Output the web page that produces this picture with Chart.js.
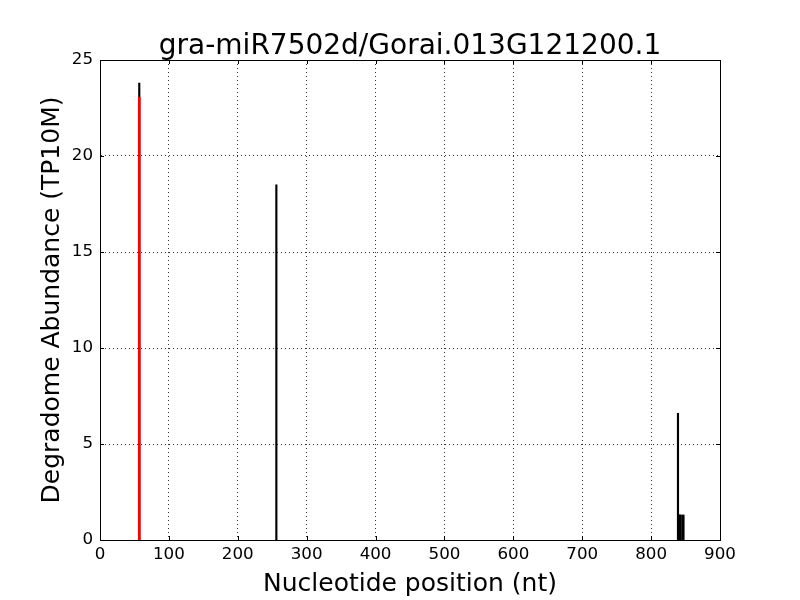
<!DOCTYPE html>
<html>
<head>
<meta charset="utf-8">
<script src="https://cdn.jsdelivr.net/npm/chart.js@4"></script>
<style>
  html, body { margin: 0; padding: 0; background: #fff; }
  canvas { display: block; }
</style>
</head>
<body>
<canvas id="chart" width="800" height="600"></canvas>
<script>
const chartTitle = "gra-miR7502d/Gorai.013G121200.1";
const xLabel = "Nucleotide position (nt)";
const yLabel = "Degradome Abundance (TP10M)";

// degradome reads (black)
const readPositions = [57, 256, 839, 840, 841, 842, 843, 846, 847];
const readValues = [23.8, 18.5, 6.6, 1.3, 1.3, 1.3, 1.3, 1.3, 1.3];

// predicted cleavage site (red)
const sitePositions = [57];
const siteValues = [23.07];

const xTicks = [0, 100, 200, 300, 400, 500, 600, 700, 800, 900];
const yTicks = [0, 5, 10, 15, 20, 25];

const toPoints = (xs, ys) => xs.map((x, i) => ({ x: x, y: ys[i] }));

const fontFamily = "'DejaVu Sans', sans-serif";

// box round plot, inward ticks, title
const framePlugin = {
  id: 'frame',
  afterDraw(chart) {
    const ctx = chart.ctx;
    const a = chart.chartArea;
    const xs = chart.scales.x, ys = chart.scales.y;
    ctx.save();
    ctx.strokeStyle = '#000';
    ctx.lineWidth = 1;
    ctx.beginPath();
    xTicks.forEach(v => {
      const p = Math.round(xs.getPixelForValue(v)) + 0.5;
      ctx.moveTo(p, a.bottom); ctx.lineTo(p, a.bottom - 4);
      ctx.moveTo(p, a.top); ctx.lineTo(p, a.top + 4);
    });
    yTicks.forEach(v => {
      const p = Math.round(ys.getPixelForValue(v)) + 0.5;
      ctx.moveTo(a.left, p); ctx.lineTo(a.left + 4, p);
      ctx.moveTo(a.right, p); ctx.lineTo(a.right - 4, p);
    });
    ctx.stroke();
    ctx.strokeRect(Math.round(a.left) + 0.5, Math.round(a.top) + 0.5,
      Math.round(a.right - a.left), Math.round(a.bottom - a.top));
    ctx.fillStyle = '#000';
    ctx.font = "28px " + fontFamily;
    ctx.textAlign = 'center';
    ctx.textBaseline = 'alphabetic';
    ctx.fillText(chartTitle, (a.left + a.right) / 2, a.top - 6);
    ctx.restore();
  }
};

new Chart(document.getElementById('chart'), {
  type: 'bar',
  data: {
    datasets: [
      {
        label: 'site',
        data: toPoints(sitePositions, siteValues),
        backgroundColor: '#ff0000',
        barThickness: 2,
        borderWidth: 0
      },
      {
        label: 'reads',
        data: toPoints(readPositions, readValues),
        backgroundColor: '#000000',
        barThickness: 1.5,
        borderWidth: 0
      }
    ]
  },
  options: {
    responsive: false,
    animation: false,
    layout: { padding: { top: 60, right: 80, left: 0, bottom: 0 } },
    datasets: { bar: { grouped: false } },
    plugins: {
      legend: { display: false },
      tooltip: { enabled: false },
      title: { display: false }
    },
    scales: {
      x: {
        type: 'linear',
        min: 0,
        max: 900,
        offset: false,
        afterBuildTicks: s => { s.ticks = xTicks.map(v => ({ value: v })); },
        afterFit: s => { s.height = 60; },
        grid: { offset: false, color: '#000', lineWidth: 0.8, tickLength: 0, drawTicks: false },
        border: { display: true, color: '#000', dash: [1, 3] },
        ticks: { color: '#000', font: { family: fontFamily, size: 16.7 }, padding: 5, maxRotation: 0 },
        title: {
          display: true, text: xLabel, color: '#000',
          font: { family: fontFamily, size: 25 }, padding: { top: 0, bottom: 1 }
        }
      },
      y: {
        min: 0,
        max: 25,
        afterBuildTicks: s => { s.ticks = yTicks.map(v => ({ value: v })); },
        afterFit: s => { s.width = 100; },
        grid: { color: '#000', lineWidth: 0.8, tickLength: 0, drawTicks: false },
        border: { display: true, color: '#000', dash: [1, 3] },
        ticks: { color: '#000', font: { family: fontFamily, size: 16.7 }, padding: 7 },
        title: {
          display: true, text: yLabel, color: '#000',
          font: { family: fontFamily, size: 25 }, padding: { top: 37, bottom: 0 }
        }
      }
    }
  },
  plugins: [framePlugin]
});
</script>
</body>
</html>
